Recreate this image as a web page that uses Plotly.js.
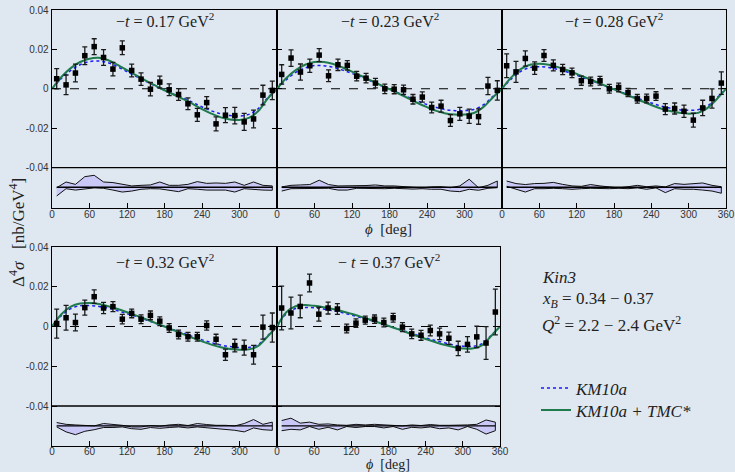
<!DOCTYPE html>
<html><head><meta charset="utf-8">
<script src="https://cdn.plot.ly/plotly-3.0.1.min.js"></script>
<style>html,body{margin:0;padding:0;background:#dfe8f1;}</style>
</head><body><div id="chart" style="width:735px;height:472px;"></div>
<script>
const tLabels = ["0.17", "0.23", "0.28", "0.32", "0.37"];
const phiBins = [7.5,22.5,37.5,52.5,67.5,82.5,97.5,112.5,127.5,142.5,157.5,172.5,187.5,202.5,217.5,232.5,247.5,262.5,277.5,292.5,307.5,322.5,337.5,352.5];
const curvePhi = [0,15,30,45,60,75,90,105,120,135,150,165,180,195,210,225,240,255,270,285,300,315,330,345,360];
const bandBase = -0.05;

const data1 = [0.0051,0.0020,0.0080,0.0168,0.0214,0.0159,0.0100,0.0208,0.0093,0.0049,-0.0002,0.0034,-0.0005,-0.0029,-0.0076,-0.0132,-0.0070,-0.0178,-0.0134,-0.0136,-0.0168,-0.0153,-0.0032,-0.0008];
const err1  = [0.0051,0.0050,0.0045,0.0045,0.0040,0.0040,0.0034,0.0035,0.0032,0.0032,0.0034,0.0030,0.0030,0.0030,0.0030,0.0033,0.0030,0.0036,0.0038,0.0042,0.0043,0.0045,0.0050,0.0047];
const data2 = [0.0073,0.0156,0.0085,0.0117,0.0171,0.0066,0.0122,0.0119,0.0064,0.0054,0.0029,0.0000,-0.0002,-0.0005,-0.0053,-0.0042,-0.0095,-0.0088,-0.0161,-0.0127,-0.0139,-0.0141,0.0014,-0.0008];
const err2  = [0.0049,0.0042,0.0041,0.0034,0.0033,0.0030,0.0029,0.0024,0.0024,0.0024,0.0024,0.0024,0.0023,0.0024,0.0024,0.0026,0.0027,0.0030,0.0030,0.0033,0.0036,0.0039,0.0044,0.0049];
const data3 = [0.0117,0.0086,0.0154,0.0105,0.0169,0.0119,0.0098,0.0081,0.0041,0.0037,0.0041,0.0000,0.0007,-0.0019,-0.0051,-0.0049,-0.0037,-0.0103,-0.0100,-0.0114,-0.0159,-0.0097,-0.0049,0.0029];
const err3  = [0.0060,0.0053,0.0039,0.0032,0.0030,0.0028,0.0026,0.0024,0.0023,0.0022,0.0022,0.0022,0.0022,0.0021,0.0022,0.0022,0.0022,0.0028,0.0028,0.0031,0.0035,0.0039,0.0049,0.0057];
const data4 = [0.0015,0.0044,0.0020,0.0095,0.0150,0.0093,0.0100,0.0037,0.0066,0.0037,0.0056,0.0027,-0.0007,-0.0040,-0.0051,-0.0051,0.0005,-0.0064,-0.0142,-0.0096,-0.0106,-0.0142,-0.0003,-0.0005];
const err4  = [0.0073,0.0062,0.0042,0.0038,0.0034,0.0028,0.0025,0.0024,0.0022,0.0022,0.0022,0.0022,0.0022,0.0022,0.0022,0.0022,0.0023,0.0025,0.0028,0.0032,0.0038,0.0047,0.0060,0.0073];
const data5 = [0.0093,0.0068,0.0101,0.0219,0.0062,0.0093,0.0088,-0.0010,0.0017,0.0032,0.0037,0.0020,0.0044,-0.0003,-0.0037,-0.0044,-0.0020,-0.0037,-0.0059,-0.0110,-0.0090,-0.0052,-0.0083,0.0073];
const err5  = [0.0110,0.0080,0.0057,0.0045,0.0035,0.0030,0.0027,0.0022,0.0021,0.0020,0.0021,0.0022,0.0022,0.0023,0.0024,0.0025,0.0027,0.0029,0.0031,0.0036,0.0039,0.0054,0.0082,0.0115];

const km1  = [0,0.0052,0.0093,0.0122,0.0138,0.0141,0.0132,0.0112,0.0087,0.0062,0.0038,0.0015,-0.0007,-0.0027,-0.0047,-0.0069,-0.0092,-0.0112,-0.0127,-0.0136,-0.0138,-0.0130,-0.0100,-0.0045,0];
const tmc1 = [0,0.0060,0.0105,0.0136,0.0153,0.0157,0.0145,0.0122,0.0095,0.0068,0.0042,0.0017,-0.0008,-0.0030,-0.0052,-0.0077,-0.0103,-0.0126,-0.0145,-0.0156,-0.0158,-0.0148,-0.0113,-0.0050,0];
const km2  = [0,0.0046,0.0083,0.0106,0.0118,0.0117,0.0109,0.0095,0.0078,0.0059,0.0039,0.0018,-0.0002,-0.0022,-0.0042,-0.0062,-0.0080,-0.0095,-0.0106,-0.0111,-0.0111,-0.0105,-0.0082,-0.0040,0];
const tmc2 = [0,0.0055,0.0095,0.0122,0.0136,0.0136,0.0126,0.0108,0.0087,0.0065,0.0043,0.0020,-0.0002,-0.0025,-0.0048,-0.0072,-0.0093,-0.0112,-0.0125,-0.0131,-0.0131,-0.0123,-0.0093,-0.0045,0];
const km3  = [0,0.0050,0.0088,0.0108,0.0112,0.0108,0.0098,0.0085,0.0069,0.0051,0.0034,0.0015,-0.0003,-0.0021,-0.0039,-0.0056,-0.0072,-0.0087,-0.0098,-0.0106,-0.0109,-0.0106,-0.0087,-0.0047,0];
const tmc3 = [0,0.0058,0.0100,0.0122,0.0127,0.0122,0.0110,0.0094,0.0076,0.0056,0.0037,0.0017,-0.0003,-0.0023,-0.0043,-0.0063,-0.0082,-0.0100,-0.0113,-0.0122,-0.0126,-0.0122,-0.0098,-0.0053,0];
const km4  = [0,0.0055,0.0090,0.0104,0.0105,0.0101,0.0092,0.0079,0.0065,0.0050,0.0034,0.0017,0.0000,-0.0017,-0.0034,-0.0051,-0.0067,-0.0081,-0.0093,-0.0101,-0.0106,-0.0105,-0.0090,-0.0047,0];
const tmc4 = [0,0.0062,0.0100,0.0116,0.0118,0.0113,0.0102,0.0088,0.0072,0.0055,0.0037,0.0018,0.0000,-0.0019,-0.0038,-0.0057,-0.0075,-0.0091,-0.0104,-0.0113,-0.0117,-0.0115,-0.0097,-0.0050,0];
const km5  = [0,0.0064,0.0091,0.0096,0.0094,0.0088,0.0080,0.0070,0.0058,0.0045,0.0032,0.0018,0.0003,-0.0012,-0.0027,-0.0042,-0.0057,-0.0070,-0.0082,-0.0093,-0.0099,-0.0100,-0.0088,-0.0047,0];
const tmc5 = [0,0.0072,0.0102,0.0108,0.0104,0.0097,0.0088,0.0077,0.0064,0.0050,0.0035,0.0019,0.0003,-0.0013,-0.0030,-0.0047,-0.0063,-0.0078,-0.0092,-0.0103,-0.0110,-0.0111,-0.0096,-0.0050,0];

const sysHi1 = [-0.0502,-0.0473,-0.0485,-0.0446,-0.0439,-0.0473,-0.0476,-0.0485,-0.0493,-0.0490,-0.0488,-0.0473,-0.0490,-0.0490,-0.0485,-0.0471,-0.0480,-0.0478,-0.0480,-0.0473,-0.0490,-0.0473,-0.0490,-0.0493];
const sysLo1 = [-0.0544,-0.0507,-0.0514,-0.0507,-0.0503,-0.0505,-0.0514,-0.0524,-0.0519,-0.0510,-0.0507,-0.0508,-0.0514,-0.0522,-0.0507,-0.0510,-0.0514,-0.0514,-0.0514,-0.0524,-0.0507,-0.0510,-0.0514,-0.0515];
const sysHi2 = [-0.0498,-0.0490,-0.0488,-0.0486,-0.0464,-0.0486,-0.0493,-0.0493,-0.0493,-0.0491,-0.0488,-0.0493,-0.0493,-0.0498,-0.0500,-0.0503,-0.0498,-0.0497,-0.0502,-0.0493,-0.0459,-0.0502,-0.0490,-0.0468];
const sysLo2 = [-0.0519,-0.0507,-0.0505,-0.0507,-0.0505,-0.0505,-0.0514,-0.0514,-0.0505,-0.0505,-0.0507,-0.0507,-0.0505,-0.0507,-0.0509,-0.0507,-0.0510,-0.0510,-0.0519,-0.0522,-0.0510,-0.0515,-0.0505,-0.0502];
const sysHi3 = [-0.0468,-0.0481,-0.0486,-0.0481,-0.0480,-0.0475,-0.0485,-0.0493,-0.0495,-0.0486,-0.0493,-0.0498,-0.0503,-0.0497,-0.0490,-0.0497,-0.0493,-0.0498,-0.0481,-0.0485,-0.0480,-0.0478,-0.0490,-0.0497];
const sysLo3 = [-0.0495,-0.0510,-0.0524,-0.0507,-0.0507,-0.0505,-0.0507,-0.0510,-0.0507,-0.0505,-0.0505,-0.0507,-0.0505,-0.0507,-0.0503,-0.0510,-0.0503,-0.0527,-0.0507,-0.0510,-0.0510,-0.0514,-0.0519,-0.0530];
const sysHi4 = [-0.0483,-0.0492,-0.0495,-0.0497,-0.0500,-0.0488,-0.0492,-0.0497,-0.0505,-0.0505,-0.0498,-0.0502,-0.0495,-0.0492,-0.0498,-0.0488,-0.0493,-0.0497,-0.0497,-0.0500,-0.0488,-0.0468,-0.0492,-0.0481];
const sysLo4 = [-0.0505,-0.0530,-0.0544,-0.0527,-0.0519,-0.0508,-0.0508,-0.0505,-0.0514,-0.0517,-0.0508,-0.0512,-0.0508,-0.0505,-0.0510,-0.0505,-0.0508,-0.0514,-0.0517,-0.0522,-0.0530,-0.0510,-0.0519,-0.0522];
const sysHi5 = [-0.0473,-0.0461,-0.0486,-0.0481,-0.0492,-0.0490,-0.0495,-0.0497,-0.0492,-0.0495,-0.0492,-0.0495,-0.0497,-0.0500,-0.0495,-0.0498,-0.0493,-0.0497,-0.0497,-0.0497,-0.0495,-0.0492,-0.0470,-0.0481];
const sysLo5 = [-0.0524,-0.0517,-0.0520,-0.0503,-0.0517,-0.0507,-0.0520,-0.0503,-0.0508,-0.0503,-0.0503,-0.0510,-0.0503,-0.0517,-0.0507,-0.0510,-0.0505,-0.0514,-0.0510,-0.0520,-0.0503,-0.0517,-0.0541,-0.0524];

const yTickVals = [-0.04, -0.02, 0, 0.02, 0.04];
const yTickText = ["-0.04", "-0.02", "0", "0.02", "0.04"];
const xTickShort = [0, 60, 120, 180, 240, 300];
const xTickFull = [0, 60, 120, 180, 240, 300, 360];

const panels = [
  {data: data1, err: err1, km: km1, tmc: tmc1, hi: sysHi1, lo: sysLo1},
  {data: data2, err: err2, km: km2, tmc: tmc2, hi: sysHi2, lo: sysLo2},
  {data: data3, err: err3, km: km3, tmc: tmc3, hi: sysHi3, lo: sysLo3},
  {data: data4, err: err4, km: km4, tmc: tmc4, hi: sysHi4, lo: sysLo4},
  {data: data5, err: err5, km: km5, tmc: tmc5, hi: sysHi5, lo: sysLo5}
];

const W = 735, H = 472;
const px = v => v / W, py = v => 1 - v / H;
const xDomains = [[52,277],[277,502],[502,726],[52,277],[277,500]];
const yDomains = [[208,10],[208,10],[208,10],[446,247],[446,247]];
const yRanges = [[-0.0605,0.04],[-0.0605,0.04],[-0.0605,0.04],[-0.0601,0.04],[-0.0601,0.04]];

const SERIF = 'Liberation Serif';
const bg = '#dfe8f1';
const traces = [];
const legFont = {family: SERIF, size: 17, color: '#222', style: 'italic'};
const layout = {
  width: W, height: H, autosize: false,
  margin: {l:0, r:0, t:0, b:0},
  paper_bgcolor: bg, plot_bgcolor: bg,
  showlegend: true,
  legend: {x: px(536), y: py(388.5), xanchor: 'left', yanchor: 'middle', bgcolor: 'rgba(0,0,0,0)',
           font: legFont, itemwidth: 30},
  legend2: {x: px(536), y: py(410.5), xanchor: 'left', yanchor: 'middle', bgcolor: 'rgba(0,0,0,0)',
           font: legFont, itemwidth: 30},
  shapes: [], annotations: []
};

const tickFont = {family: 'Liberation Sans', size: 10, color: '#333'};

panels.forEach((p, i) => {
  const n = i + 1;
  const xa = 'x' + (n === 1 ? '' : n), ya = 'y' + (n === 1 ? '' : n);
  const xk = 'xaxis' + (n === 1 ? '' : n), yk = 'yaxis' + (n === 1 ? '' : n);
  layout[xk] = {
    domain: [px(xDomains[i][0]), px(xDomains[i][1])], range: [0, 360], anchor: ya,
    tickvals: (i === 2 || i === 4) ? xTickFull : xTickShort,
    ticks: 'inside', ticklen: 5, tickwidth: 1, tickcolor: '#000', ticklabelstandoff: i < 3 ? -3 : -4,
    showline: true, linecolor: '#000', linewidth: 1.4, mirror: true,
    showgrid: false, zeroline: false, tickfont: tickFont, fixedrange: true
  };
  layout[yk] = {
    domain: [py(yDomains[i][0]), py(yDomains[i][1])], range: yRanges[i], anchor: xa,
    tickvals: yTickVals, ticktext: yTickText, showticklabels: (i === 0 || i === 3),
    ticks: 'inside', ticklen: 5, tickwidth: 1, tickcolor: '#000',
    showline: true, linecolor: '#000', linewidth: 1.4, mirror: 'ticks',
    showgrid: false, zeroline: false, tickfont: tickFont, fixedrange: true
  };
  // systematic band
  traces.push({x: phiBins.concat(phiBins.slice().reverse()), y: p.hi.concat(p.lo.slice().reverse()),
    xaxis: xa, yaxis: ya, mode: 'lines', fill: 'toself', fillcolor: '#c9c8f6',
    line: {color: '#111', width: 1}, showlegend: false, hoverinfo: 'skip'});
  traces.push({x: [phiBins[0], phiBins[phiBins.length-1]], y: [bandBase, bandBase],
    xaxis: xa, yaxis: ya, mode: 'lines', line: {color: '#000', width: 1.4}, showlegend: false, hoverinfo: 'skip'});
  // model curves
  traces.push({x: curvePhi, y: p.km, xaxis: xa, yaxis: ya, mode: 'lines', name: 'KM10a', legend: 'legend',
    line: {color: '#1a1aff', width: 1.5, dash: 'dot', shape: 'spline', smoothing: 1},
    showlegend: i === 0});
  traces.push({x: curvePhi, y: p.tmc, xaxis: xa, yaxis: ya, mode: 'lines', name: 'KM10a + TMC*', legend: 'legend2',
    line: {color: '#1f7a4c', width: 2, shape: 'spline', smoothing: 1},
    showlegend: i === 0});
  // data
  traces.push({x: phiBins, y: p.data, xaxis: xa, yaxis: ya, mode: 'markers',
    marker: {symbol: 'square', size: 5.5, color: '#000'},
    error_y: {type: 'data', array: p.err, visible: true, color: '#1a1a1a', thickness: 1.3, width: 2.5},
    showlegend: false});
  // zero line & separator
  layout.shapes.push({type: 'line', xref: xa + ' domain', yref: ya, x0: 0, x1: 1, y0: 0, y1: 0,
    line: {color: '#000', width: 1.1, dash: 'dash'}, layer: 'below'});
  layout.shapes.push({type: 'line', xref: xa + ' domain', yref: ya, x0: 0, x1: 1, y0: -0.04, y1: -0.04,
    line: {color: '#000', width: 1.4}});
  // -t label
  const cx = (xDomains[i][0] + xDomains[i][1]) / 2;
  const cy = i < 3 ? 20 : 261;
  layout.annotations.push({xref: 'paper', yref: 'paper', x: px(cx), y: py(cy), xanchor: 'center', yanchor: 'middle',
    text: (i === 4 ? '− <i>t</i> = ' : '−<i>t</i> = ') + tLabels[i] + ' GeV<sup>2</sup>', showarrow: false,
    font: {family: SERIF, size: 16, color: '#222'}});
});

const serif = {family: SERIF, size: 17, color: '#222'};
layout.annotations.push(
  {xref: 'paper', yref: 'paper', x: px(388), y: py(229), xanchor: 'center', yanchor: 'middle', showarrow: false,
   text: '<i>ϕ</i>  [deg]', font: {family: SERIF, size: 15, color: '#222'}},
  {xref: 'paper', yref: 'paper', x: px(388), y: py(464), xanchor: 'center', yanchor: 'middle', showarrow: false,
   text: '<i>ϕ</i>  [deg]', font: {family: SERIF, size: 14, color: '#222'}},
  {xref: 'paper', yref: 'paper', x: px(17), y: py(233), xanchor: 'center', yanchor: 'middle', showarrow: false,
   textangle: -90, text: 'Δ<sup>4</sup><i>σ</i>   [nb/GeV<sup>4</sup>]', font: serif},
  {xref: 'paper', yref: 'paper', x: px(540), y: py(277), xanchor: 'left', yanchor: 'middle', showarrow: false,
   text: '<i>Kin3</i>', font: serif},
  {xref: 'paper', yref: 'paper', x: px(540), y: py(300), xanchor: 'left', yanchor: 'middle', showarrow: false,
   text: '<i>x</i><sub><i>B</i></sub> = 0.34 − 0.37', font: serif},
  {xref: 'paper', yref: 'paper', x: px(540), y: py(324), xanchor: 'left', yanchor: 'middle', showarrow: false,
   text: '<i>Q</i><sup>2</sup> = 2.2 − 2.4 GeV<sup>2</sup>', font: serif}
);

Plotly.newPlot('chart', traces, layout, {displayModeBar: false, staticPlot: true});
</script></body></html>
